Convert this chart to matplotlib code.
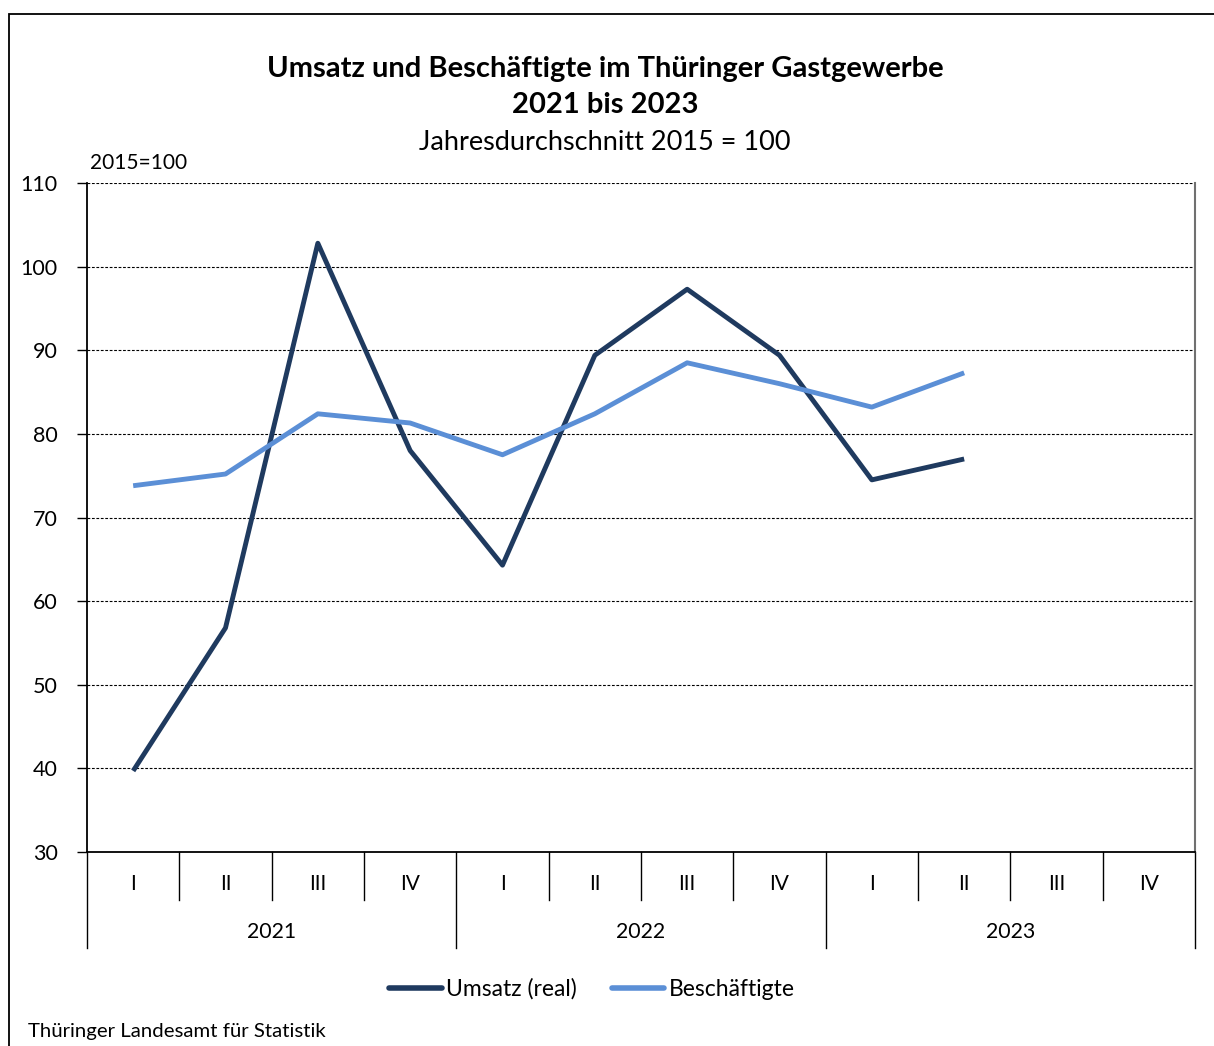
import matplotlib
matplotlib.use("Agg")
import matplotlib.pyplot as plt
from matplotlib.patches import Rectangle
from matplotlib.lines import Line2D

plt.rcParams['font.family'] = ['Lato', 'DejaVu Sans']

quarters = ["I", "II", "III", "IV"]
years = ["2021", "2022", "2023"]
umsatz = [39.7, 56.8, 102.8, 78.0, 64.3, 89.4, 97.3, 89.4, 74.5, 77.0]
beschaeftigte = [73.8, 75.2, 82.4, 81.3, 77.5, 82.4, 88.5, 86.0, 83.2, 87.3]
yticks = [30, 40, 50, 60, 70, 80, 90, 100, 110]

W, H = 1214, 1046
fig = plt.figure(figsize=(W/100, H/100), dpi=100)
ax = fig.add_axes([87/W, 1-852/H, (1195-87)/W, (852-183)/H])

n = len(quarters) * len(years)
ax.set_xlim(-0.5, n - 0.5)
ax.set_ylim(30, 110)
xs = list(range(len(umsatz)))
c1 = '#1F3A5F'
c2 = '#5B8FD6'
ax.plot(xs, umsatz, color=c1, lw=3.5, solid_capstyle='butt', zorder=3)
ax.plot(xs, beschaeftigte, color=c2, lw=3.5, solid_capstyle='butt', zorder=3)

ax.set_yticks(yticks)
ax.set_yticklabels([str(v) for v in yticks], fontsize=15.5)
ax.tick_params(axis='y', length=7, width=1, pad=14, direction='out')
ax.set_xticks([])
for v in yticks[1:]:
    ax.axhline(v, color='black', lw=0.8, ls=(0, (2.5, 1.5)), zorder=1)

ax.spines['top'].set_visible(False)
ax.spines['left'].set_linewidth(1.3)
ax.spines['bottom'].set_linewidth(1.3)
ax.spines['right'].set_color('#707070')
ax.spines['right'].set_linewidth(1.5)

# category axis lines and labels
trans = ax.get_xaxis_transform()
qh = (900 - 852) / (852 - 183)
yh = (948 - 852) / (852 - 183)
for i in range(n + 1):
    x = i - 0.5
    is_year = (i % 4 == 0)
    h = yh if is_year else qh
    ax.add_line(Line2D([x, x], [0, -h], transform=trans, color='black', lw=1, clip_on=False))
for i in range(n):
    ax.text(i, -(884 - 852) / (852 - 183), quarters[i % 4], transform=trans,
            ha='center', va='center', fontsize=15)
for j, yr in enumerate(years):
    ax.text(j * 4 + 1.5, -(932 - 852) / (852 - 183), yr, transform=trans,
            ha='center', va='center', fontsize=15.3)

# titles
fig.text(605/W, 1-69/H, "Umsatz und Beschäftigte im Thüringer Gastgewerbe",
         ha='center', va='center', fontsize=21, fontweight='bold')
fig.text(605/W, 1-105/H, "2021 bis 2023", ha='center', va='center',
         fontsize=21, fontweight='bold')
fig.text(605/W, 1-142/H, "Jahresdurchschnitt 2015 = 100", ha='center', va='center',
         fontsize=19.5)
fig.text(90/W, 1-163/H, "2015=100", ha='left', va='center', fontsize=15)
fig.text(28/W, 1-1031/H, "Thüringer Landesamt für Statistik", ha='left', va='center', fontsize=14.7)

# legend
handles = [Line2D([], [], color=c1, lw=4, solid_capstyle='round'),
           Line2D([], [], color=c2, lw=4, solid_capstyle='round')]
fig.legend(handles, ["Umsatz (real)", "Beschäftigte"], loc='center',
           bbox_to_anchor=(592/W, 1-989/H), ncol=2, frameon=False, fontsize=16.5,
           handlelength=2.3, handletextpad=0.2, columnspacing=1.5)

# outer frame
fig.patches.append(Rectangle((9/W, -0.1), 1.2, 1 - 14/H + 0.1, transform=fig.transFigure,
                             fill=False, edgecolor='black', lw=1.3))

fig.savefig("out.png", dpi=100)
